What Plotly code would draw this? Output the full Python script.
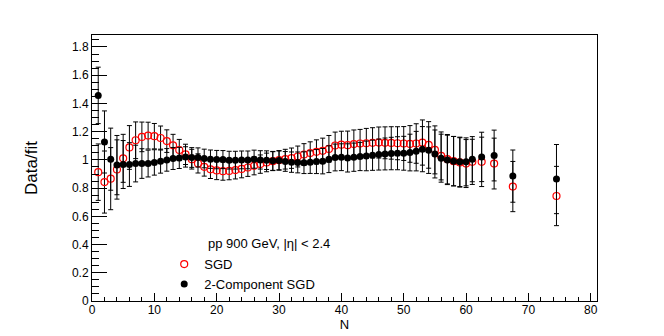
import plotly.graph_objects as go

# multiplicity bins (bin centres)
n_bins = [1, 2, 3, 4, 5, 6, 7, 8, 9, 10,
          11, 12, 13, 14, 15, 16, 17, 18, 19, 20,
          21, 22, 23, 24, 25, 26, 27, 28, 29, 30,
          31, 32, 33, 34, 35, 36, 37, 38, 39, 40,
          41, 42, 43, 44, 45, 46, 47, 48, 49, 50,
          51, 52, 53, 54, 55, 56, 57, 58, 59, 60,
          61, 62.5, 64.5, 67.5, 74.5]

# data/fit, single SGD
ratio_sgd = [0.913, 0.843, 0.867, 0.932, 1.011, 1.088, 1.139, 1.163, 1.172, 1.168,
             1.155, 1.133, 1.103, 1.070, 1.039, 1.005, 0.975, 0.951, 0.933, 0.925,
             0.920, 0.922, 0.928, 0.936, 0.946, 0.958, 0.970, 0.982, 0.991, 0.998,
             1.005, 1.012, 1.024, 1.038, 1.048, 1.057, 1.064, 1.078, 1.102, 1.108,
             1.104, 1.112, 1.116, 1.118, 1.121, 1.123, 1.121, 1.120, 1.118, 1.116,
             1.113, 1.116, 1.123, 1.106, 1.071, 1.028, 1.005, 0.991, 0.982, 0.974,
             0.986, 0.986, 0.974, 0.811, 0.744]

# data/fit, two-component SGD
ratio_2c = [1.457, 1.127, 1.005, 0.963, 0.967, 0.967, 0.974, 0.974, 0.974, 0.982,
            0.991, 1.000, 1.010, 1.014, 1.021, 1.017, 1.017, 1.010, 1.005, 1.002,
            1.002, 0.998, 0.998, 1.000, 1.000, 1.005, 1.000, 0.998, 0.993, 0.995,
            0.989, 0.984, 0.982, 0.980, 0.984, 0.988, 0.991, 1.005, 1.017, 1.019,
            1.014, 1.019, 1.024, 1.028, 1.033, 1.038, 1.042, 1.045, 1.047, 1.047,
            1.052, 1.062, 1.076, 1.069, 1.042, 1.012, 1.000, 0.991, 0.986, 0.986,
            1.005, 1.021, 1.031, 0.885, 0.864]

err_sgd = [0.20, 0.22, 0.22, 0.21, 0.17, 0.155, 0.13, 0.105, 0.095, 0.09,
           0.085, 0.08, 0.078, 0.075, 0.072, 0.07, 0.068, 0.066, 0.065, 0.065,
           0.064, 0.063, 0.063, 0.063, 0.063, 0.064, 0.065, 0.066, 0.067, 0.068,
           0.07, 0.072, 0.074, 0.077, 0.08, 0.085, 0.09, 0.095, 0.095, 0.095,
           0.1, 0.1, 0.1, 0.105, 0.107, 0.11, 0.113, 0.115, 0.117, 0.12,
           0.13, 0.14, 0.16, 0.165, 0.17, 0.17, 0.175, 0.175, 0.175, 0.17,
           0.16, 0.175, 0.18, 0.178, 0.21]

err_2c = [0.20, 0.22, 0.22, 0.21, 0.17, 0.155, 0.13, 0.105, 0.095, 0.09,
          0.085, 0.08, 0.078, 0.075, 0.072, 0.07, 0.068, 0.066, 0.065, 0.065,
          0.064, 0.063, 0.063, 0.063, 0.063, 0.064, 0.065, 0.066, 0.067, 0.068,
          0.07, 0.072, 0.074, 0.077, 0.08, 0.085, 0.09, 0.095, 0.095, 0.095,
          0.1, 0.1, 0.1, 0.105, 0.107, 0.11, 0.113, 0.115, 0.117, 0.12,
          0.13, 0.14, 0.16, 0.165, 0.17, 0.17, 0.175, 0.175, 0.175, 0.17,
          0.16, 0.175, 0.18, 0.185, 0.245]

FONT = "Liberation Sans, Arial, Helvetica, sans-serif"

fig = go.Figure()
fig.add_trace(go.Scatter(
    x=n_bins, y=ratio_sgd, mode="markers", name="SGD",
    marker=dict(symbol="circle-open", color="red", size=7,
                line=dict(width=1.2, color="red")),
    error_y=dict(type="data", array=err_sgd, color="black",
                 thickness=1, width=2.5)))
fig.add_trace(go.Scatter(
    x=n_bins, y=ratio_2c, mode="markers", name="2-Component SGD",
    marker=dict(symbol="circle", color="black", size=7),
    error_y=dict(type="data", array=err_2c, color="black",
                 thickness=1, width=2.5)))

# legend header (ROOT TLegend style)
fig.add_annotation(text="pp 900 GeV, |η| < 2.4", xref="paper", yref="paper",
                   x=0.2257, y=0.218, xanchor="left", yanchor="middle",
                   showarrow=False, font=dict(size=13, color="black"))

# page body adds an 8px offset, so margins are shifted to compensate
fig.update_layout(
    width=664, height=336,
    margin=dict(l=84, r=75, t=27, b=43),
    paper_bgcolor="white", plot_bgcolor="white",
    font=dict(family=FONT, color="black", size=12),
    showlegend=True,
    legend=dict(x=0.143, y=0.195, xanchor="left", yanchor="top",
                bgcolor="rgba(0,0,0,0)", font=dict(size=13),
                tracegroupgap=0),
    xaxis=dict(range=[0, 81], showgrid=False, zeroline=False,
               showline=True, mirror=True, linecolor="black", linewidth=1,
               ticks="inside", ticklen=8, tickcolor="black", dtick=10,
               tick0=0, tickfont=dict(size=12), automargin=False,
               ticklabelstandoff=-2,
               minor=dict(ticks="inside", ticklen=4, dtick=2,
                          tickcolor="black", showgrid=False),
               title=dict(text="N", font=dict(size=13), standoff=0)),
    yaxis=dict(range=[0, 1.885], showgrid=False, zeroline=False,
               showline=True, mirror=True, linecolor="black", linewidth=1,
               ticks="inside", ticklen=15, tickcolor="black", dtick=0.2,
               tick0=0, tickfont=dict(size=12), automargin=False,
               minor=dict(ticks="inside", ticklen=7, dtick=0.05,
                          tickcolor="black", showgrid=False),
               title=dict(text="Data/fit", font=dict(size=17), standoff=29)),
)

fig.write_html("out.html")
